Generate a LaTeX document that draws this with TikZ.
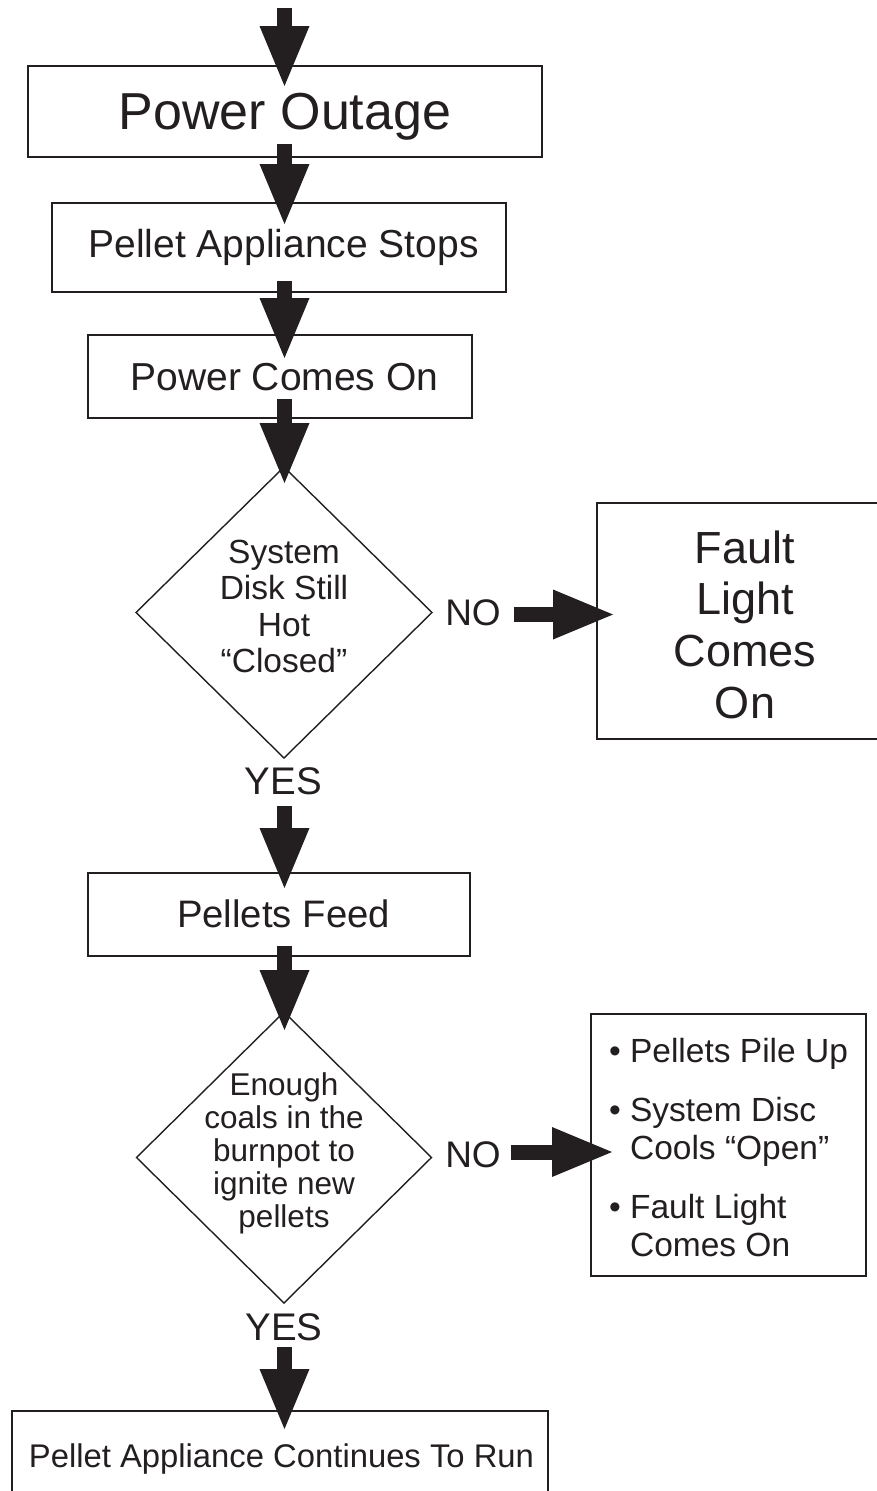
\documentclass[tikz,border=0pt]{standalone}
\usepackage{fontspec}
\setmainfont{Liberation Sans}
\usetikzlibrary{arrows.meta,shapes.geometric,calc}
\definecolor{ink}{RGB}{35,31,32}
\newcommand{\setfs}[2]{\fontsize{#1pt}{#2pt}\selectfont}
\begin{document}
\begin{tikzpicture}[x=1pt,y=-1pt,
  box/.style={draw=ink, line width=1.8pt, outer sep=0pt, inner sep=0pt, text=ink},
  dia/.style={draw=ink, diamond, line width=1.4pt, outer sep=0pt, inner sep=0pt},
  lbl/.style={inner sep=0pt, outer sep=0pt, text=ink, anchor=base},
  blockarrow/.style={draw=ink, line width=15pt, -{Triangle[length=60pt,width=50pt,line width=0pt]}}
]
\useasboundingbox (0,0) rectangle (876,1491);

% boxes and decisions
\node[box, minimum width=514pt, minimum height=91pt, text height=35pt, text depth=0pt, font=\setfs{52}{60}] (po) at (285,111.5) {Power Outage};
\node[box, minimum width=454pt, minimum height=89pt, text height=19pt, text depth=0pt, font=\setfs{39}{45}] (ps) at (279,247.5) {\hspace*{9pt}Pellet Appliance Stops};
\node[box, minimum width=384pt, minimum height=83pt, text height=27pt, text depth=0pt, font=\setfs{39}{45}] (pc) at (280,376.5) {\hspace*{9pt}Power Comes On};
\node[dia, minimum width=296pt, minimum height=291pt] (d1) at (284,612.5) {};
\node[lbl, font=\setfs{33.5}{36.5}] (d1t) at (284,563) {\begin{tabular}[t]{@{}c@{}}System\\Disk Still\\Hot\\“Closed”\end{tabular}};
\node[box, minimum width=281pt, minimum height=236pt, text height=30pt, text depth=146pt, font=\setfs{45}{51.7}] (fault) at (737.5,621) {\hspace*{15pt}\begin{tabular}[t]{@{}c@{}}Fault\\Light\\Comes\\On\end{tabular}};
\node[lbl, font=\setfs{37}{40}, text height=21pt, text depth=0pt] (no1) at (473,625) {NO};
\node[lbl, font=\setfs{38.5}{42}, text depth=0pt] (yes1) at (283.5,794) {YES};
\node[box, minimum width=382pt, minimum height=83pt, text height=25pt, text depth=0pt, font=\setfs{38.3}{44}] (pf) at (279,914.5) {\hspace*{9pt}Pellets Feed};
\node[dia, minimum width=295pt, minimum height=291pt] (d2) at (284,1157.5) {};
\node[lbl, font=\setfs{31.5}{33}] (d2t) at (284,1095) {\begin{tabular}[t]{@{}c@{}}Enough\\coals in the\\burnpot to\\ignite new\\pellets\end{tabular}};
\node[lbl, font=\setfs{37}{40}, text height=30pt, text depth=0pt] (no2) at (473,1167) {NO};
\node[box, minimum width=275pt, minimum height=262pt, text height=24pt, text depth=190pt, font=\setfs{33.5}{37.5}] (bul) at (728.5,1145) {\begin{tabular}[t]{@{}l@{}}• Pellets Pile Up\\[22pt]• System Disc\\\hphantom{• }Cools “Open”\\[22pt]• Fault Light\\\hphantom{• }Comes On\end{tabular}};
\node[lbl, font=\setfs{38.5}{42}, text depth=0pt] (yes2) at (284,1340) {YES};
\node[box, minimum width=536pt, minimum height=92pt, text height=20pt, text depth=0pt, font=\setfs{32.8}{38}] (bot) at (280,1457) {\hspace*{3pt}Pellet Appliance Continues To Run};

% connectors
\coordinate (entry) at (284.5,8);
\draw[blockarrow] (entry) -- ($(po.north -| entry)+(0,20)$);
\draw[blockarrow] ($(po.south -| entry)+(0,-13)$) -- ($(ps.north -| entry)+(0,21)$);
\draw[blockarrow] ($(ps.south -| entry)+(0,-11)$) -- ($(pc.north -| entry)+(0,23)$);
\draw[blockarrow] ($(pc.south -| entry)+(0,-19)$) -- ($(d1.north -| entry)+(0,16)$);
\draw[blockarrow] ($(yes1.south -| entry)+(0,12)$) -- ($(pf.north -| entry)+(0,15)$);
\draw[blockarrow] ($(pf.south -| entry)+(0,-10)$) -- ($(d2.north -| entry)+(0,18)$);
\draw[blockarrow] ($(yes2.south -| entry)+(0,7)$) -- ($(bot.north -| entry)+(0,18)$);
\draw[blockarrow] ($(no1.east)+(13,0)$) -- ($(no1.east -| fault.west)+(16,0)$);
\draw[blockarrow] ($(no2.east)+(10,0)$) -- ($(no2.east -| bul.west)+(21,0)$);
\end{tikzpicture}
\end{document}
